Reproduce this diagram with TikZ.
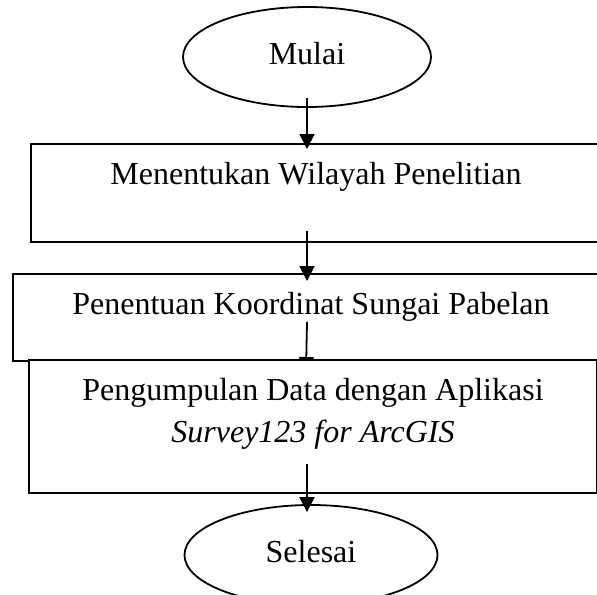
\documentclass[tikz,border=0pt]{standalone}
\usepackage{fontspec}
\setmainfont{Liberation Serif}
\usetikzlibrary{shapes.geometric,arrows.meta}

\begin{document}
\begin{tikzpicture}[x=0.5pt, y=-0.5pt,
    font=\fontsize{16}{21}\selectfont,
    terminal/.style={draw, ellipse, line width=0.9pt, fill=white, minimum width=124pt,
        minimum height=50pt, inner sep=0pt, text height=11pt, text depth=3.5pt},
    stepbox/.style={draw, rectangle, line width=0.9pt, fill=white, anchor=north,
        align=center, inner xsep=0pt, inner ysep=0pt, text height=20.5pt},
    flow/.style={line width=0.9pt, -{Triangle[width=7.5pt,length=7.5pt]}}]
    \clip (0,0) rectangle (597,594);
    % Start and the first two steps.
        \node[terminal] (mulai) at (307,57) {Mulai};
        \node[stepbox, minimum width=285pt, text depth=28.5pt] (wilayah) at (316,143) {Menentukan Wilayah Penelitian};
        \node[stepbox, minimum width=298pt, text depth=23pt] (koordinat) at (311,273) {Penentuan Koordinat Sungai Pabelan};
        \coordinate (a3end) at (306,372);
    % Arrows between the steps.
        \draw[flow] ([yshift=5pt]mulai.south) -- ([yshift=-3pt]mulai.south |- wilayah.north);
        \draw[flow] ([yshift=6pt]mulai.south |- wilayah.south) -- ([yshift=-4pt]mulai.south |- koordinat.north);
        \draw[flow] ([yshift=20pt]mulai.south |- koordinat.south) -- (a3end);
    % Last step and the end.
        \node[stepbox, minimum width=284pt, text height=41.5pt, text depth=25pt] (data) at (313,359) {Pengumpulan Data dengan Aplikasi\\ \textit{Survey123 for ArcGIS}};
        \node[terminal, minimum width=126.5pt] (selesai) at (311,555) {Selesai};
        \draw[flow] ([yshift=15pt]mulai.south |- data.south) -- ([yshift=-4pt]mulai.south |- selesai.north);
\end{tikzpicture}
\end{document}
